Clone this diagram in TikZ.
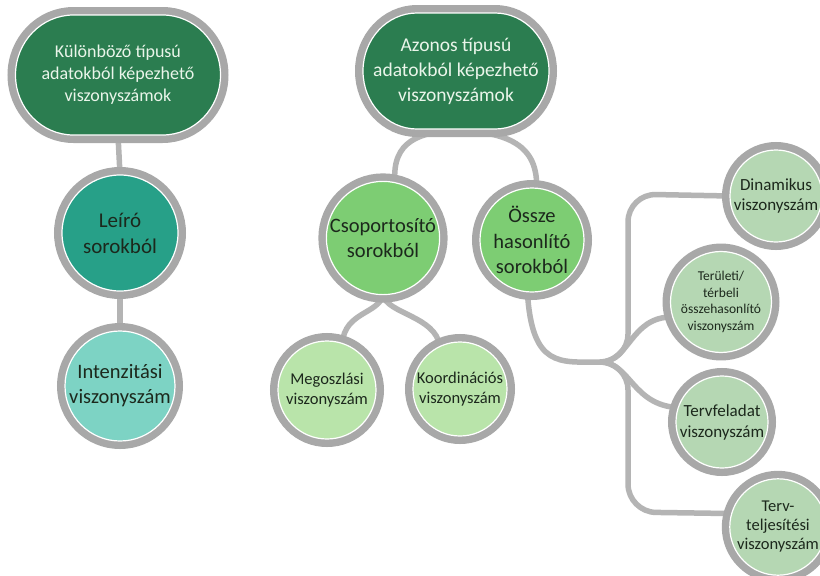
\documentclass[tikz,border=0pt]{standalone}
\usepackage{fontspec}
\setmainfont{Carlito}
\pgfdeclarelayer{back}
\pgfdeclarelayer{bg}
\pgfdeclarelayer{mid}
\pgfsetlayers{back,bg,mid,main}
\definecolor{ring}{HTML}{A8A8A8}
\definecolor{conn}{HTML}{B4B4B4}
\definecolor{dkgreen}{HTML}{2B7D50}
\definecolor{teal}{HTML}{27A088}
\definecolor{ltteal}{HTML}{7DD3C4}
\definecolor{medgreen}{HTML}{7DCD73}
\definecolor{ltgreen}{HTML}{B9E4AA}
\definecolor{sage}{HTML}{B5D7B3}
\definecolor{txtdark}{HTML}{1C281C}
\definecolor{txtlight}{HTML}{EAF5EA}
\newcommand\ovalshape[5]{%
  \path[ringline, fill=#5] (#1.center) ++({-#2+#4},{-#3}) -- ++({2*(#2-#4)},0)
    arc[start angle=90, end angle=-90, x radius=#4pt, y radius=#3pt]
    -- ++({-2*(#2-#4)},0)
    arc[start angle=270, end angle=90, x radius=#4pt, y radius=#3pt] -- cycle;}
\begin{document}
\begin{tikzpicture}[x=1pt,y=-1pt,
  ringline/.style={draw=white, line width=1.2pt, preaction={draw=ring,line width=16pt}},
  bub/.style={ringline, align=center, inner sep=0pt, text=txtdark},
  circ/.style={bub, circle, minimum size=#1},
  ovaltext/.style={rectangle, align=center, inner sep=0pt, text=txtlight},
  link/.style={draw=conn, line width=5.5pt},
  fs/.style 2 args={font=\fontsize{#1pt}{#2pt}\selectfont}
]
\useasboundingbox (0,0) rectangle (820,576);
\begin{pgfonlayer}{back}
\fill[white] (0,0) rectangle (820,576);
\end{pgfonlayer}

% top ovals
\node[ovaltext, minimum width=205pt, minimum height=120pt, fs={18}{22}] (le) at (118,75)
  {Különböző típusú\\adatokból képezhető\\viszonyszámok};
\node[ovaltext, minimum width=186pt, minimum height=116pt, fs={19.5}{25}] (az) at (456,71)
  {Azonos típusú\\adatokból képezhető\\viszonyszámok};
\begin{pgfonlayer}{mid}
\ovalshape{le}{102.5}{60}{58}{dkgreen}
\ovalshape{az}{93}{58}{54}{dkgreen}
\end{pgfonlayer}

% left column
\node[circ=116pt, fill=teal, fs={21}{26}] (lr) at (120,233) {Leíró\\sorokból};
\node[circ=110pt, fill=ltteal, fs={20.5}{25}] (in) at (120,386) {Intenzitási\\viszonyszám};

% middle
\node[circ=104pt, fill=medgreen, fs={20.5}{25.5}] (cs) at (383,238) {Csoportosító\\sorokból};
\node[circ=104pt, fill=medgreen, fs={20.5}{25.5}] (os) at (532,240) {Össze\\hasonlító\\sorokból};
\node[circ=98pt, fill=ltgreen, fs={16.5}{20}] (mg) at (327,390) {Megoszlási\\viszonyszám};
\node[circ=94pt, fill=ltgreen, fs={16.5}{20}] (ko) at (460,389) {Koordinációs\\viszonyszám};

% right
\node[circ=92pt, fill=sage, fs={17}{20.5}] (din) at (776,196) {Dinamikus\\viszonyszám};
\node[circ=88pt, fill=sage, fs={13.5}{16.7}] (ter) at (721,302) {Területi/\\térbeli\\összehasonlító\\viszonyszám};
\node[circ=92pt, fill=sage, fs={17}{21}] (tf) at (722,422) {Tervfeladat\\viszonyszám};
\node[circ=94pt, fill=sage, fs={16.5}{19}] (tt) at (778,527) {Terv-\\teljesítési\\viszonyszám};

\coordinate (hub) at (600,362);

\begin{pgfonlayer}{bg}
\draw[link] (le.south) -- (lr.north);
\draw[link] (lr.south) -- (in.north);
\draw[link] (cs.78) .. controls (392,140) and (420,133) .. (az.south);
\draw[link] (az.south) .. controls (500,133) and (538,140) .. (os.85);
\draw[link] (cs.south) .. controls (378,314) and (345,312) .. (mg.72);
\draw[link] (cs.south) .. controls (388,314) and (435,316) .. (ko.115);
\draw[link] (os.265) .. controls (532,368) and (560,362) .. (hub);
\draw[link, rounded corners=28pt] (hub) -| (628,194) -- (din.west);
\draw[link] (hub) .. controls (630,362) and (630,317) .. (ter.197);
\draw[link] (hub) .. controls (630,362) and (632,405) .. (tf.162);
\draw[link, rounded corners=28pt] (hub) -| (628,512) -- (tt.164);
\end{pgfonlayer}
\end{tikzpicture}
\end{document}
